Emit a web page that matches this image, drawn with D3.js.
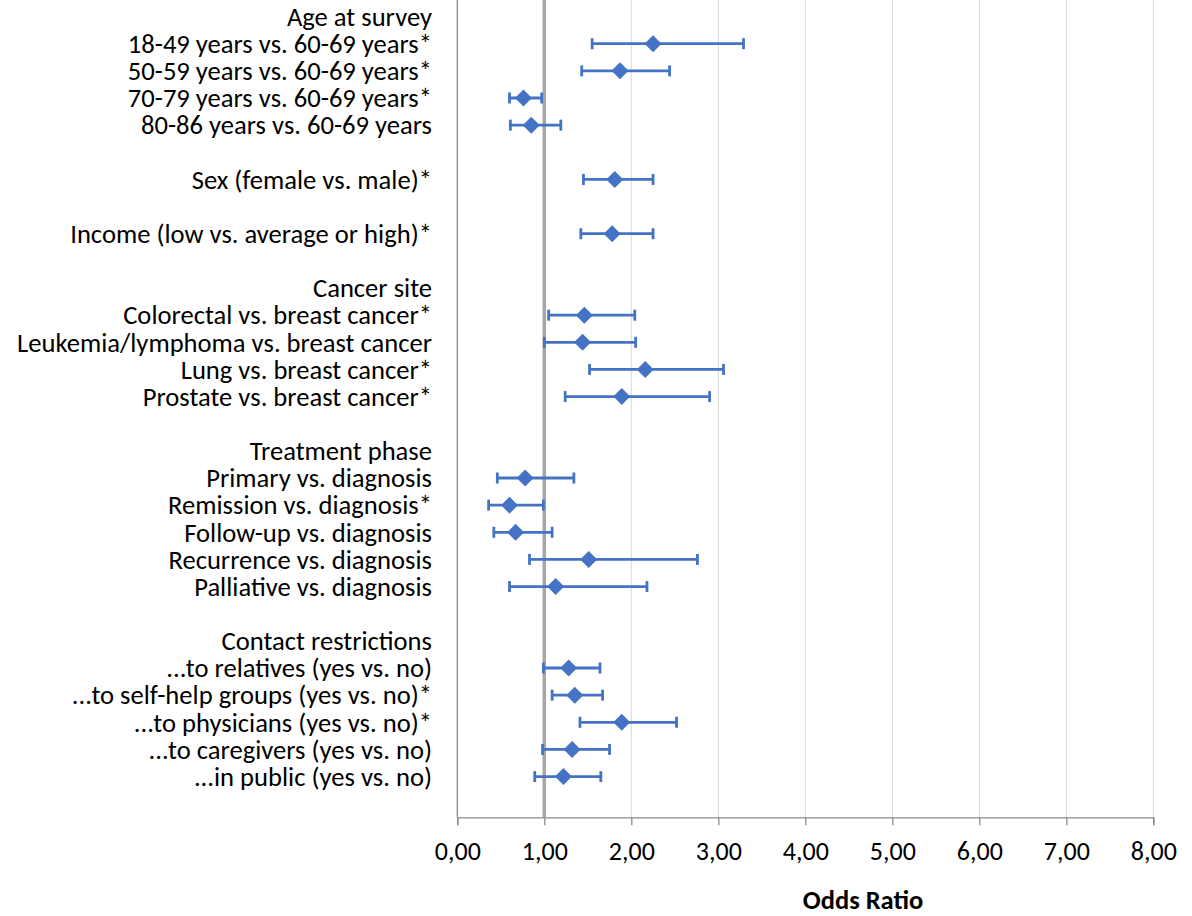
<!DOCTYPE html>
<html>
<head>
<meta charset="utf-8">
<script src="https://cdn.jsdelivr.net/npm/d3@7"></script>
<style>
  html, body { margin: 0; padding: 0; background: #fff; }
  svg { display: block; }
  text { font-family: Carlito, "Open Sans", "Liberation Sans", sans-serif; fill: #000; }
</style>
</head>
<body>
<svg id="chart" width="1192" height="916"></svg>
<script>
// Row labels (top to bottom); empty strings are spacer rows
const labels = [
  "Age at survey",
  "18-49 years vs. 60-69 years*",
  "50-59 years vs. 60-69 years*",
  "70-79 years vs. 60-69 years*",
  "80-86 years vs. 60-69 years",
  "",
  "Sex (female vs. male)*",
  "",
  "Income (low vs. average or high)*",
  "",
  "Cancer site",
  "Colorectal vs. breast cancer*",
  "Leukemia/lymphoma vs. breast cancer",
  "Lung vs. breast cancer*",
  "Prostate vs. breast cancer*",
  "",
  "Treatment phase",
  "Primary vs. diagnosis",
  "Remission vs. diagnosis*",
  "Follow-up vs. diagnosis",
  "Recurrence vs. diagnosis",
  "Palliative vs. diagnosis",
  "",
  "Contact restrictions",
  "...to relatives (yes vs. no)",
  "...to self-help groups (yes vs. no)*",
  "...to physicians (yes vs. no)*",
  "...to caregivers (yes vs. no)",
  "...in public (yes vs. no)",
  ""
];
// Odds ratios and 95% CI (null = no estimate for heading / spacer rows)
const oddsRatio = [null, 2.25, 1.87, 0.76, 0.85, null, 1.81, null, 1.78, null,
  null, 1.46, 1.44, 2.16, 1.89, null,
  null, 0.78, 0.60, 0.67, 1.51, 1.13, null,
  null, 1.28, 1.35, 1.89, 1.32, 1.22, null];
const ciLower = [null, 1.55, 1.43, 0.60, 0.61, null, 1.45, null, 1.42, null,
  null, 1.05, 1.00, 1.52, 1.24, null,
  null, 0.46, 0.36, 0.42, 0.83, 0.60, null,
  null, 0.99, 1.09, 1.41, 0.98, 0.89, null];
const ciUpper = [null, 3.29, 2.44, 0.97, 1.19, null, 2.25, null, 2.25, null,
  null, 2.04, 2.05, 3.06, 2.90, null,
  null, 1.34, 0.99, 1.09, 2.76, 2.18, null,
  null, 1.64, 1.67, 2.52, 1.75, 1.65, null];
const xTicks = [0, 1, 2, 3, 4, 5, 6, 7, 8];
const xDomain = [0, 8];
const referenceValue = 1;
const axisTitle = "Odds Ratio";

const svg = d3.select("#chart");
const blue = "#4472C4";
const plot = { left: 457.3, right: 1153.3, top: 3, bottom: 817.3 };

const x = d3.scaleLinear().domain(xDomain).range([plot.left, plot.right]);
const y = d3.scaleBand().domain(d3.range(labels.length)).range([plot.top, plot.bottom]).padding(0);
const cy = i => y(i) + y.bandwidth() / 2;

const locale = d3.formatLocale({ decimal: ",", thousands: ".", grouping: [3], currency: ["", "€"] });
const fmt = locale.format(".2f");

// gridlines
svg.append("g")
  .selectAll("line").data(xTicks.filter(t => t > 0)).join("line")
  .attr("x1", d => x(d)).attr("x2", d => x(d))
  .attr("y1", 0).attr("y2", plot.bottom)
  .attr("stroke", "#d9d9d9").attr("stroke-width", 1);

// left vertical axis line
svg.append("line")
  .attr("x1", x(0)).attr("x2", x(0)).attr("y1", 0).attr("y2", plot.bottom)
  .attr("stroke", "#8c8c8c").attr("stroke-width", 1.3);

// reference line at OR = 1
svg.append("line")
  .attr("x1", x(referenceValue)).attr("x2", x(referenceValue))
  .attr("y1", 0).attr("y2", plot.bottom)
  .attr("stroke", "#a6a6a6").attr("stroke-width", 3.5);

// x axis
const xAxis = d3.axisBottom(x).tickValues(xTicks).tickFormat(fmt).tickSize(8).tickPadding(16);
const gx = svg.append("g").attr("transform", `translate(0,${plot.bottom})`).call(xAxis);
gx.select(".domain").attr("stroke", "#8c8c8c").attr("stroke-width", 1.3);
gx.selectAll(".tick line").attr("stroke", "#8c8c8c").attr("stroke-width", 1.3);
gx.selectAll(".tick text").style("font-size", "26px").attr("fill", "#000");

// axis title
svg.append("text")
  .attr("x", 863).attr("y", 909)
  .attr("text-anchor", "middle")
  .style("font-size", "26.5px").style("font-weight", "bold")
  .text(axisTitle);

// row labels
svg.append("g")
  .selectAll("text").data(labels).join("text")
  .attr("x", 432).attr("y", (d, i) => cy(i))
  .attr("dy", "0.35em")
  .attr("text-anchor", "end")
  .style("font-size", "26.6px")
  .text(d => d);

// data rows
const rows = d3.range(labels.length).filter(i => oddsRatio[i] != null);
const g = svg.append("g");
g.selectAll("line.ci").data(rows).join("line").attr("class", "ci")
  .attr("x1", i => x(ciLower[i])).attr("x2", i => x(ciUpper[i]))
  .attr("y1", cy).attr("y2", cy)
  .attr("stroke", blue).attr("stroke-width", 2.8);
g.selectAll("line.capL").data(rows).join("line").attr("class", "capL")
  .attr("x1", i => x(ciLower[i])).attr("x2", i => x(ciLower[i]))
  .attr("y1", i => cy(i) - 5.5).attr("y2", i => cy(i) + 5.5)
  .attr("stroke", blue).attr("stroke-width", 2.8);
g.selectAll("line.capU").data(rows).join("line").attr("class", "capU")
  .attr("x1", i => x(ciUpper[i])).attr("x2", i => x(ciUpper[i]))
  .attr("y1", i => cy(i) - 5.5).attr("y2", i => cy(i) + 5.5)
  .attr("stroke", blue).attr("stroke-width", 2.8);
const diamond = d3.symbol().type(d3.symbolSquare).size(12 * 12);
g.selectAll("path.pt").data(rows).join("path").attr("class", "pt")
  .attr("d", diamond)
  .attr("transform", i => `translate(${x(oddsRatio[i])},${cy(i)}) rotate(45)`)
  .attr("fill", blue);
</script>
</body>
</html>
